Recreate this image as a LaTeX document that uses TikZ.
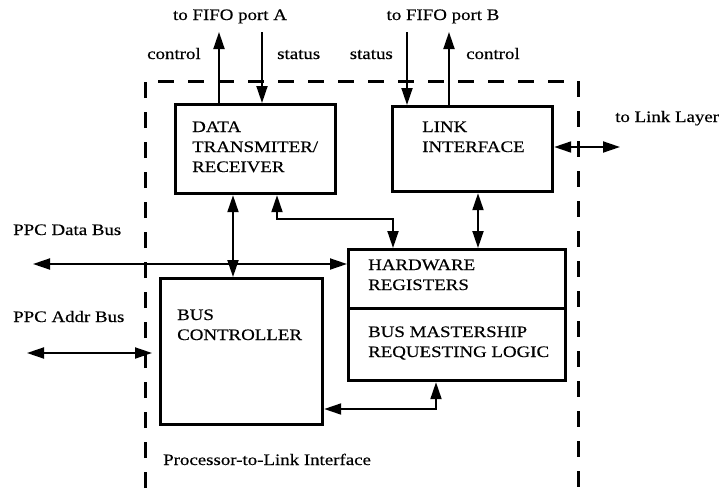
\documentclass[tikz,border=0pt]{standalone}
\usepackage{fontspec}
\setmainfont[FakeStretch=1.18,FakeBold=0.4]{Liberation Serif}
\usetikzlibrary{arrows.meta}
\begin{document}
\begin{tikzpicture}[x=1pt,y=-1pt,
  box/.style={draw,line width=3.2pt,anchor=north west,inner sep=0pt},
  txt/.style={anchor=base west,inner sep=0pt,align=left,font=\fontsize{16}{20}\selectfont},
  tip/.tip={Triangle[length=17pt,width=11pt]},
  arr/.style={line width=1.9pt,-tip},
  darr/.style={line width=1.9pt,tip-tip},
  frame/.style={line width=3pt,dash pattern=on 16pt off 14pt}]
\useasboundingbox (0,0) rectangle (723,488);
% dashed boundary
\draw[frame] (145,488) -- (145,81) -- (578,81) -- (578,488);
% boxes
\node[box,minimum width=160pt,minimum height=89pt] (dt) at (174,103) {};
\node[box,minimum width=160pt,minimum height=85pt] (li) at (391,105) {};
\node[box,minimum width=217pt,minimum height=59pt] (hw) at (347,248) {};
\node[box,minimum width=217pt,minimum height=72pt] (bm) at (347,307) {};
\node[box,minimum width=162pt,minimum height=146pt] (bc) at (159,277) {};
% box texts (anchored at the baseline of the last line)
\node[txt] (dtt) at (192,172) {DATA\\TRANSMITER/\\RECEIVER};
\node[txt] (lit) at (422,152) {LINK\\INTERFACE};
\node[txt] (hwt) at (368,290) {HARDWARE\\REGISTERS};
\node[txt] (bmt) at (368,357) {BUS MASTERSHIP\\REQUESTING LOGIC};
\node[txt] (bct) at (177,340) {BUS\\CONTROLLER};
% outside labels
\node[txt,anchor=base] (fa) at (230,20) {to FIFO port A};
\node[txt,anchor=base] (fb) at (443,20) {to FIFO port B};
\node[txt] (c1) at (147,59) {control};
\node[txt] (s1) at (277,59) {status};
\node[txt,anchor=base east] (s2) at (393,59) {status};
\node[txt] (c2) at (466,59) {control};
\node[txt] (ll) at (615,122) {to Link Layer};
\node[txt] (pd) at (13,235) {PPC Data Bus};
\node[txt] (pa) at (13,322) {PPC Addr Bus};
\node[txt] (pl) at (163,465) {Processor-to-Link Interface};
% free ends
\coordinate (ca) at (219,32);
\coordinate (sa) at (262,32);
\coordinate (sb) at (407,32);
\coordinate (cb) at (449,32);
\coordinate (lk) at (620,147);
\coordinate (db) at (33,264);
\coordinate (abl) at (27,353);
\coordinate (abr) at (152,353);
\coordinate (m1) at (277,219);
\coordinate (m2) at (393,219);
\coordinate (m3) at (436,409);
% connectors
\draw[arr] (dt.north -| ca) -- (ca);
\draw[arr] (sa) -- (sa |- dt.north);
\draw[arr] (sb) -- (sb |- li.north);
\draw[arr] (li.north -| cb) -- (cb);
\draw[darr] (li.east |- lk) -- (lk);
\draw[darr] (li.south -| 478,0) -- (hw.north -| 478,0);
\draw[darr] (dt.south -| 233,0) -- (bc.north -| 233,0);
\draw[darr] (dt.south -| m1) -- (m1) -- (m2) -- (m2 |- hw.north);
\draw[darr] (db) -- (hw.west |- db);
\draw[darr] (abl) -- (abr);
\draw[darr] (bm.south -| m3) -- (m3) -- (bc.east |- m3);
\end{tikzpicture}
\end{document}
